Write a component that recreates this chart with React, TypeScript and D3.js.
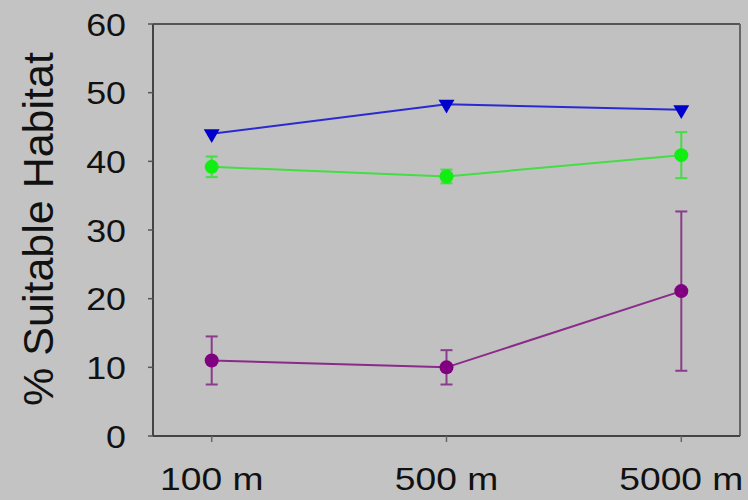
import React from "react";
import * as d3 from "d3";

const categories = ["100 m", "500 m", "5000 m"];
const yTicks = [0, 10, 20, 30, 40, 50, 60];
const yTitle = "% Suitable Habitat";

const blueValues = [44.0, 48.3, 47.5];
const greenValues = [39.2, 37.8, 40.9];
const greenErrors = [1.5, 1.0, 3.35];
const purpleValues = [11.0, 10.0, 21.1];
const purpleErrors = [3.5, 2.5, 11.6];

const W = 748;
const H = 500;
const left = 153, right = 740, top = 24, bottom = 436;

export default function App() {
  const x = d3.scalePoint<string>().domain(categories).range([left, right]).padding(0.25);
  const y = d3.scaleLinear().domain([0, 60]).range([bottom, top]);
  const line = d3
    .line<number>()
    .x((_, i) => x(categories[i]) as number)
    .y((d) => y(d));

  const tri = d3.symbol().type(d3.symbolTriangle).size(110)();

  const errBars = (vals: number[], errs: number[], color: string) =>
    vals.map((v, i) => {
      const cx = x(categories[i]) as number;
      const y1 = y(v + errs[i]);
      const y2 = y(v - errs[i]);
      return (
        <g key={i} stroke={color} strokeWidth={2}>
          <line x1={cx} x2={cx} y1={y1} y2={y2} />
          <line x1={cx - 6} x2={cx + 6} y1={y1} y2={y1} />
          <line x1={cx - 6} x2={cx + 6} y1={y2} y2={y2} />
        </g>
      );
    });

  return (
    <svg
      width={W}
      height={H}
      style={{ position: "fixed", left: 0, top: 0, background: "#c2c2c2" }}
      fontFamily="'Liberation Sans', Arial, sans-serif"
    >
      <rect x={0} y={0} width={W} height={H} fill="#c3c3c3" />
      <rect x={left} y={top} width={right - left} height={bottom - top} fill="#c1c1c1" />
      {/* frame */}
      <line x1={left} x2={right} y1={top} y2={top} stroke="#555" strokeWidth={2} />
      <line x1={right} x2={right} y1={top} y2={bottom} stroke="#666" strokeWidth={2} />
      <line x1={left} x2={left} y1={top} y2={bottom} stroke="#444" strokeWidth={2} />
      <line x1={left} x2={right} y1={bottom} y2={bottom} stroke="#444" strokeWidth={2} />

      {/* y ticks */}
      {yTicks.map((t) => (
        <g key={t}>
          <line x1={left - 5} x2={left} y1={y(t)} y2={y(t)} stroke="#555" strokeWidth={1.5} />
          <text
            transform={`translate(126,${y(t)}) scale(1.12,1)`}
            textAnchor="end"
            dy="0.36em"
            fontSize={32}
            fill="#111"
          >
            {t}
          </text>
        </g>
      ))}

      {/* x ticks */}
      {categories.map((c) => (
        <g key={c}>
          <line x1={x(c)} x2={x(c)} y1={bottom} y2={bottom + 6} stroke="#666" strokeWidth={1.5} />
          <text
            transform={`translate(${x(c)},490) scale(1.2,1)`}
            textAnchor="middle"
            fontSize={31}
            fill="#111"
          >
            {c}
          </text>
        </g>
      ))}

      {/* y title */}
      <text
        transform="translate(53,229) rotate(-90)"
        textAnchor="middle"
        fontSize={43}
        fill="#111"
      >
        {yTitle}
      </text>

      {/* error bars */}
      {errBars(purpleValues, purpleErrors, "#8a3c8a")}
      {errBars(greenValues, greenErrors, "#44dd44")}

      {/* lines */}
      <path d={line(blueValues) ?? ""} fill="none" stroke="#2a2ad0" strokeWidth={2} />
      <path d={line(greenValues) ?? ""} fill="none" stroke="#44dd44" strokeWidth={2} />
      <path d={line(purpleValues) ?? ""} fill="none" stroke="#8a2a8a" strokeWidth={2} />

      {/* markers */}
      {blueValues.map((v, i) => (
        <path
          key={i}
          d={tri ?? ""}
          transform={`translate(${x(categories[i])},${y(v)}) rotate(180)`}
          fill="#0000cc"
        />
      ))}
      {greenValues.map((v, i) => (
        <circle key={i} cx={x(categories[i])} cy={y(v)} r={7} fill="#11ee11" />
      ))}
      {purpleValues.map((v, i) => (
        <circle key={i} cx={x(categories[i])} cy={y(v)} r={7} fill="#800080" />
      ))}
    </svg>
  );
}
